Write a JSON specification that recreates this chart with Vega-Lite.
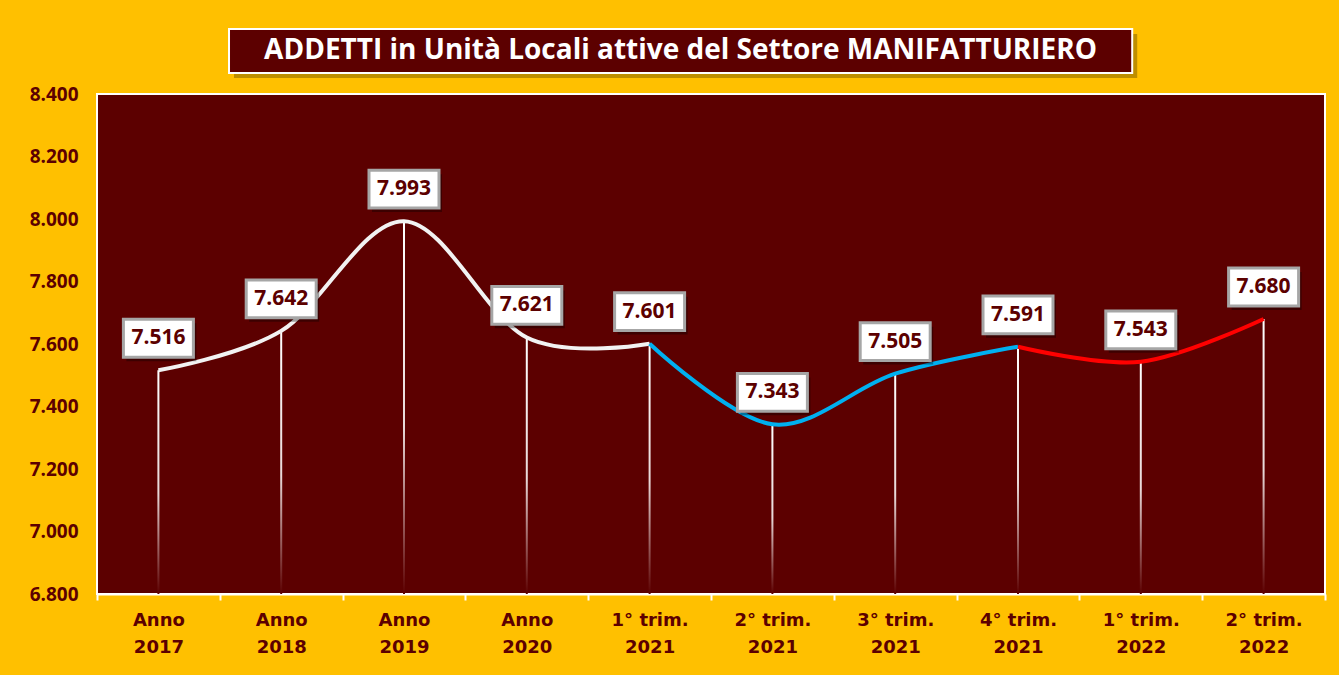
{
  "$schema": "https://vega.github.io/schema/vega-lite/v6.json",
  "width": 1228,
  "height": 500,
  "autosize": "none",
  "padding": {"left": 97, "top": 94, "right": 14, "bottom": 81},
  "background": "#FFC000",
  "config": {
    "locale": {"number": {"decimal": ",", "thousands": ".", "grouping": [3], "currency": ["€", ""]}},
    "view": {"fill": "#5C0000", "stroke": "#FFFFFF", "strokeWidth": 2}
  },
  "resolve": {"scale": {"x": "independent"}, "axis": {"y": "independent"}},
  "layer": [
    {
      "data": {"values": [{"t": "ADDETTI in Unità Locali attive del Settore MANIFATTURIERO"}]},
      "layer": [
        {
          "mark": {"type": "rect", "fill": "#6E5200", "opacity": 0.45, "xOffset": 5, "x2Offset": 5, "yOffset": 5, "y2Offset": 5},
          "encoding": {
            "x": {"datum": 0.1075, "type": "quantitative", "scale": {"domain": [0, 1], "nice": false, "zero": false}, "axis": null},
            "x2": {"datum": 0.843},
            "y": {"datum": 8608, "type": "quantitative", "scale": {"domain": [6800, 8400], "nice": false, "zero": false}, "axis": null},
            "y2": {"datum": 8467}
          }
        },
        {
          "mark": {"type": "rect", "fill": "#5C0000", "stroke": "#FFFFFF", "strokeWidth": 2},
          "encoding": {
            "x": {"datum": 0.1075, "type": "quantitative", "scale": {"domain": [0, 1], "nice": false, "zero": false}, "axis": null},
            "x2": {"datum": 0.843},
            "y": {"datum": 8608, "type": "quantitative", "scale": {"domain": [6800, 8400], "nice": false, "zero": false}, "axis": null},
            "y2": {"datum": 8467}
          }
        },
        {
          "mark": {"type": "text", "color": "#FFFFFF", "font": "Open Sans", "fontSize": 28, "fontWeight": "bold", "align": "center", "baseline": "middle"},
          "encoding": {
            "x": {"datum": 0.4752, "type": "quantitative", "scale": {"domain": [0, 1], "nice": false, "zero": false}, "axis": null},
            "y": {"datum": 8537, "type": "quantitative", "scale": {"domain": [6800, 8400], "nice": false, "zero": false}, "axis": null},
            "text": {"field": "t"}
          }
        }
      ]
    },
    {
      "data": {
        "values": [
          {"ord": 0, "cat": "Anno 2017", "v": 7516},
          {"ord": 1, "cat": "Anno 2018", "v": 7642},
          {"ord": 2, "cat": "Anno 2019", "v": 7993},
          {"ord": 3, "cat": "Anno 2020", "v": 7621},
          {"ord": 4, "cat": "1° trim. 2021", "v": 7601},
          {"ord": 5, "cat": "2° trim. 2021", "v": 7343},
          {"ord": 6, "cat": "3° trim. 2021", "v": 7505},
          {"ord": 7, "cat": "4° trim. 2021", "v": 7591},
          {"ord": 8, "cat": "1° trim. 2022", "v": 7543},
          {"ord": 9, "cat": "2° trim. 2022", "v": 7680}
        ]
      },
      "encoding": {
        "x": {
          "field": "cat",
          "type": "nominal",
          "title": null,
          "scale": {
            "domain": ["Anno 2017", "Anno 2018", "Anno 2019", "Anno 2020", "1° trim. 2021", "2° trim. 2021", "3° trim. 2021", "4° trim. 2021", "1° trim. 2022", "2° trim. 2022"],
            "paddingInner": 0, "paddingOuter": 0
          },
          "axis": {
            "labelAngle": 0,
            "labelExpr": "[slice(datum.label, 0, -5), slice(datum.label, -4)]",
            "labelFont": "DejaVu Sans",
            "labelFontSize": 18,
            "labelFontWeight": "bold",
            "labelColor": "#5C0000",
            "labelLineHeight": 27,
            "labelPadding": 11,
            "labelBaseline": "top",
            "domainColor": "#FFFFFF",
            "domainWidth": 2,
            "tickColor": "#FFFFFF",
            "tickWidth": 2,
            "tickSize": 6,
            "tickBand": "extent",
            "grid": false
          }
        },
        "y": {
          "field": "v",
          "type": "quantitative",
          "scale": {"domain": [6800, 8400], "nice": false, "zero": false},
          "axis": {
            "values": [6800, 7000, 7200, 7400, 7600, 7800, 8000, 8200, 8400],
            "format": ",d",
            "title": null,
            "grid": false,
            "ticks": false,
            "domain": false,
            "labelFont": "Open Sans",
            "labelFontSize": 19,
            "labelFontWeight": "bold",
            "labelColor": "#5C0000",
            "labelPadding": 19
          }
        }
      },
      "layer": [
        {
          "mark": {
            "type": "bar",
            "width": 2,
            "fill": {
              "gradient": "linear", "x1": 0, "y1": 0, "x2": 0, "y2": 1,
              "stops": [
                {"offset": 0, "color": "#FFFFFF"},
                {"offset": 0.55, "color": "#E8D8D8"},
                {"offset": 1, "color": "#5C0000"}
              ]
            }
          },
          "encoding": {"y2": {"datum": 6800}}
        },
        {
          "transform": [{"filter": "datum.ord <= 4"}],
          "mark": {"type": "line", "interpolate": "cardinal", "stroke": "#F2F2F2", "strokeWidth": 4},
          "encoding": {"order": {"field": "ord", "type": "quantitative"}}
        },
        {
          "transform": [{"filter": "datum.ord >= 4 && datum.ord <= 7"}],
          "mark": {"type": "line", "interpolate": "cardinal", "stroke": "#00B0F0", "strokeWidth": 4},
          "encoding": {"order": {"field": "ord", "type": "quantitative"}}
        },
        {
          "transform": [{"filter": "datum.ord >= 7"}],
          "mark": {"type": "line", "interpolate": "cardinal", "stroke": "#FF0000", "strokeWidth": 4},
          "encoding": {"order": {"field": "ord", "type": "quantitative"}}
        },
        {
          "mark": {"type": "point", "shape": "M-1,-0.54L1,-0.54L1,0.54L-1,0.54Z", "size": 4900, "filled": true, "fill": "#000000", "opacity": 0.35, "yOffset": -28, "xOffset": 3, "strokeWidth": 0}
        },
        {
          "mark": {"type": "point", "shape": "M-1,-0.54L1,-0.54L1,0.54L-1,0.54Z", "size": 4900, "filled": true, "fill": "#FFFFFF", "opacity": 1, "stroke": "#A6A6A6", "strokeWidth": 3, "yOffset": -32}
        },
        {
          "mark": {"type": "text", "font": "Open Sans", "fontSize": 21, "fontWeight": "bold", "color": "#5C0000", "yOffset": -32, "baseline": "middle", "align": "center"},
          "encoding": {"text": {"field": "v", "type": "quantitative", "format": ",d"}}
        }
      ]
    }
  ]
}
